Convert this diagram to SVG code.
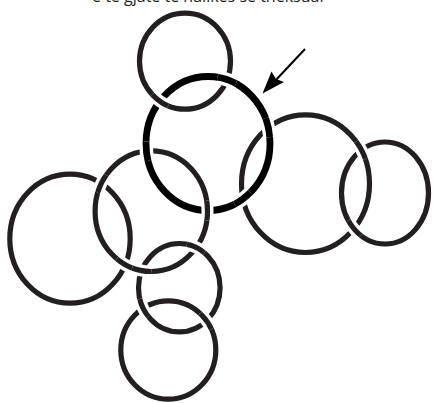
<svg xmlns="http://www.w3.org/2000/svg" xmlns:xlink="http://www.w3.org/1999/xlink" width="434" height="403" viewBox="0 0 434 403">
<style>
.ring{fill:none;stroke:#231f20;stroke-width:5.2}
.bold{fill:none;stroke:#000;stroke-width:6.8}
.halo{fill:none;stroke:#fff;stroke-width:12}
.halob{fill:none;stroke:#fff;stroke-width:13.5}
.cap{font-family:"Open Sans","Liberation Sans",sans-serif;font-size:16px;fill:#231f20}
</style>
<defs>
<ellipse id="eA" cx="185" cy="61.2" rx="45.5" ry="48"/>
<ellipse id="eB" cx="208" cy="143.5" rx="62" ry="67"/>
<ellipse id="eC" cx="305.5" cy="183.7" rx="64" ry="68.8"/>
<ellipse id="eD" cx="385" cy="193" rx="43.5" ry="51"/>
<ellipse id="eE" cx="70" cy="238.7" rx="60.2" ry="64.5"/>
<ellipse id="eF" cx="151.3" cy="211.2" rx="56.2" ry="60.3"/>
<ellipse id="eG" cx="179.3" cy="287.7" rx="40.8" ry="44.2"/>
<ellipse id="eH" cx="168.3" cy="350" rx="47.5" ry="49.2"/>
<clipPath id="k1"><circle cx="159.5" cy="101" r="10"/></clipPath>
<clipPath id="k2"><circle cx="227" cy="79.5" r="10"/></clipPath>
<clipPath id="k3"><circle cx="268.3" cy="127.5" r="10"/></clipPath>
<clipPath id="k4"><circle cx="243" cy="198.7" r="10"/></clipPath>
<clipPath id="k5"><circle cx="361.3" cy="150" r="10"/></clipPath>
<clipPath id="k6"><circle cx="354.5" cy="228" r="10"/></clipPath>
<clipPath id="k7"><circle cx="101.3" cy="183.5" r="10"/></clipPath>
<clipPath id="k8"><circle cx="125" cy="264.5" r="10"/></clipPath>
<clipPath id="k9"><circle cx="146.4" cy="151.3" r="10"/></clipPath>
<clipPath id="k10"><circle cx="207.5" cy="210.5" r="10"/></clipPath>
<clipPath id="k11"><circle cx="141.6" cy="270.4" r="10"/></clipPath>
<clipPath id="k12"><circle cx="196.3" cy="247.5" r="10"/></clipPath>
<clipPath id="k13"><circle cx="143" cy="308.3" r="10"/></clipPath>
<clipPath id="k14"><circle cx="206.4" cy="320.8" r="10"/></clipPath>
</defs>
<rect width="434" height="403" fill="#fff"/>
<text class="cap" x="92" y="1.5" textLength="234" lengthAdjust="spacingAndGlyphs">e të gjatë të hallkës së theksuar</text>
<g id="ringA"><use xlink:href="#eA" class="ring"/></g>
<g id="ringB"><use xlink:href="#eB" class="bold"/></g>
<g id="ringC"><use xlink:href="#eC" class="ring"/></g>
<g id="ringD"><use xlink:href="#eD" class="ring"/></g>
<g id="ringE"><use xlink:href="#eE" class="ring"/></g>
<g id="ringF"><use xlink:href="#eF" class="ring"/></g>
<g id="ringG"><use xlink:href="#eG" class="ring"/></g>
<g id="ringH"><use xlink:href="#eH" class="ring"/></g>
<g id="crossings">
<g clip-path="url(#k1)"><use xlink:href="#eA" class="halo"/><use xlink:href="#eA" class="ring"/></g>
<g clip-path="url(#k2)"><use xlink:href="#eB" class="halob"/><use xlink:href="#eB" class="bold"/></g>
<g clip-path="url(#k3)"><use xlink:href="#eB" class="halob"/><use xlink:href="#eB" class="bold"/></g>
<g clip-path="url(#k4)"><use xlink:href="#eB" class="halob"/><use xlink:href="#eB" class="bold"/></g>
<g clip-path="url(#k5)"><use xlink:href="#eC" class="halo"/><use xlink:href="#eC" class="ring"/></g>
<g clip-path="url(#k6)"><use xlink:href="#eD" class="halo"/><use xlink:href="#eD" class="ring"/></g>
<g clip-path="url(#k7)"><use xlink:href="#eF" class="halo"/><use xlink:href="#eF" class="ring"/></g>
<g clip-path="url(#k8)"><use xlink:href="#eF" class="halo"/><use xlink:href="#eF" class="ring"/></g>
<g clip-path="url(#k9)"><use xlink:href="#eB" class="halob"/><use xlink:href="#eB" class="bold"/></g>
<g clip-path="url(#k10)"><use xlink:href="#eF" class="halo"/><use xlink:href="#eF" class="ring"/></g>
<g clip-path="url(#k11)"><use xlink:href="#eF" class="halo"/><use xlink:href="#eF" class="ring"/></g>
<g clip-path="url(#k12)"><use xlink:href="#eG" class="halo"/><use xlink:href="#eG" class="ring"/></g>
<g clip-path="url(#k13)"><use xlink:href="#eG" class="halo"/><use xlink:href="#eG" class="ring"/></g>
<g clip-path="url(#k14)"><use xlink:href="#eH" class="halo"/><use xlink:href="#eH" class="ring"/></g>
</g>
<g id="connectors">
<line x1="305" y1="49" x2="275" y2="81" stroke="#000" stroke-width="2"/>
<polygon points="262.5,93.5 271.5,71.5 276,79 284,82" fill="#000"/>
</g>
</svg>
